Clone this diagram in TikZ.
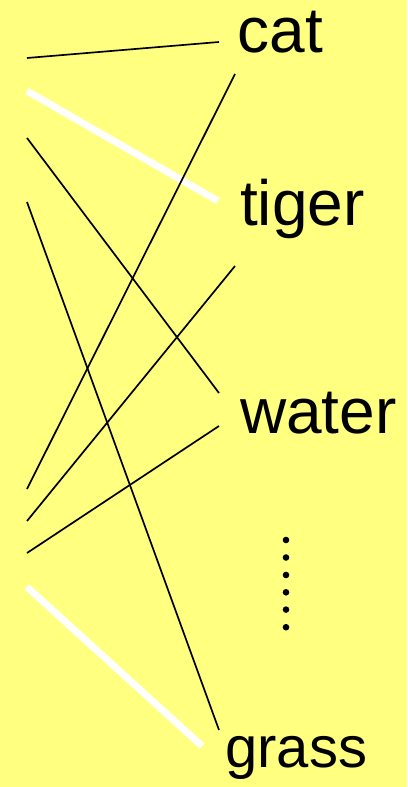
\documentclass[tikz,border=0pt]{standalone}
\usepackage{fontspec}
\setmainfont{Liberation Sans}
\usetikzlibrary{calc}
\definecolor{paleyellow}{RGB}{255,255,128}

\tikzset{word/.style={anchor=base west, inner sep=0pt, font=\fontsize{64}{64}\selectfont},
  link/.style={line width=1.7pt},
  blank/.style={white, line width=7pt}}

\begin{document}
\begin{tikzpicture}[x=1pt,y=-1pt]
\fill[paleyellow] (0,0) rectangle (407,787);
\useasboundingbox (0,0) rectangle (407,787);

\node[name=cat, word] at (237.5,52){cat};
\node[name=tiger, word] at (240,225){tiger};
\node[name=water, word] at (240,433){water};
\node[name=grass, word, font=\fontsize{58}{58}\selectfont] at (225,767){grass};

% vertical dots
\foreach \y in {540,557.5,575,592.3,609.6,627.2}
  \fill (286,\y) circle[radius=3.3];

% free left ends
\foreach \y [count=\i] in {58,91,138,202,489,521,553,587}
  \coordinate (l\i) at (27,\y);

\draw[link](l1) -- ($(cat.base west)+(-18.5,-10)$);
\draw[blank](l2) -- ($(tiger.base west)+(-22,-24)$);
\draw[link](l3) -- ($(water.base west)+(-21,-40)$);
\draw[link](l4) -- ($(grass.base west)+(-6,-37)$);
\draw[link](l5) -- ($(cat.base west)+(-2.5,22)$);
\draw[link](l6) -- ($(tiger.base west)+(-5,41)$);
\draw[link](l7) -- ($(water.base west)+(-21,-7)$);
\draw[blank](l8) -- ($(grass.base west)+(-23,-21)$);

\end{tikzpicture}
\end{document}
